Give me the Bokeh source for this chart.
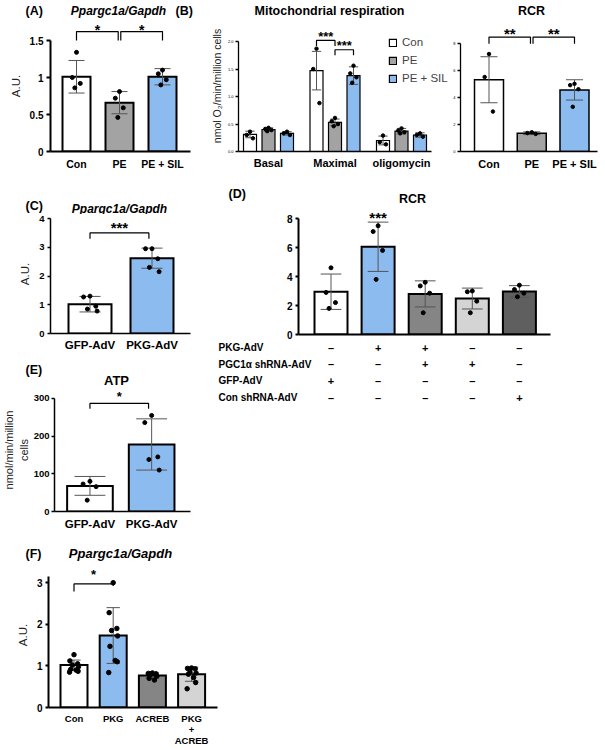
from bokeh.plotting import figure
from bokeh.layouts import column, row
from bokeh.models import (Range1d, FixedTicker, Label, ColumnDataSource, Legend,
                          LegendItem, NumeralTickFormatter)
from bokeh.core.properties import value
from bokeh.embed import file_html
from bokeh.resources import INLINE

FONT = "Liberation Sans"
WHITE = "#ffffff"; BLUE = "#8cbbf0"; GRAY = "#a3a3a3"; MID = "#858585"
LIGHT = "#d4d4d4"; DARK = "#5f5f5f"; ERR = "#555555"

# ---------------- data ----------------
# (A) Ppargc1a/Gapdh
a_groups = ["Con", "PE", "PE + SIL"]
a_mean = [1.01, 0.66, 1.01]
a_sd = [0.22, 0.15, 0.11]
a_pts = [[1.34, 1.0, 0.92, 0.86], [0.81, 0.72, 0.59, 0.46], [1.1, 1.05, 0.97, 0.9]]
a_ticks = [0, 0.5, 1, 1.5]

# (B) Mitochondrial respiration
b_phases = ["Basal", "Maximal", "oligomycin"]
b_conds = ["Con", "PE", "PE + SIL"]
b_con = [0.31, 1.47, 0.20]
b_con_sd = [0.06, 0.35, 0.08]
b_pe = [0.40, 0.53, 0.37]
b_pe_sd = [0.03, 0.06, 0.05]
b_sil = [0.33, 1.38, 0.30]
b_sil_sd = [0.03, 0.16, 0.04]
b_con_pts = [[0.36, 0.30, 0.24], [1.87, 1.50, 0.88], [0.29, 0.17, 0.13]]
b_pe_pts = [[0.43, 0.41, 0.39, 0.37], [0.61, 0.55, 0.50, 0.46], [0.42, 0.38, 0.35, 0.33]]
b_sil_pts = [[0.36, 0.33, 0.30], [1.56, 1.42, 1.35, 1.25], [0.33, 0.30, 0.27]]
b_ticks = [0, 0.5, 1.0, 1.5, 2.0]

# RCR (top)
r_groups = ["Con", "PE", "PE + SIL"]
r_mean = [5.3, 1.35, 4.55]
r_sd = [1.7, 0.1, 0.75]
r_pts = [[7.2, 5.5, 2.95], [1.42, 1.36, 1.3], [5.0, 4.9, 4.6, 3.3]]
r_ticks = [0, 2, 4, 6, 8]

# (C) Ppargc1a/Gapdh
c_groups = ["GFP-AdV", "PKG-AdV"]
c_mean = [1.02, 2.62]
c_sd = [0.27, 0.35]
c_pts = [[1.3, 1.27, 0.95, 0.85, 0.78], [2.95, 2.95, 2.6, 2.3, 2.15]]
c_ticks = [0, 1, 2, 3, 4]

# (E) ATP
e_groups = ["GFP-AdV", "PKG-AdV"]
e_mean = [68, 178]
e_sd = [25, 68]
e_pts = [[80, 73, 66, 30], [255, 236, 145, 138, 110]]
e_ticks = [0, 100, 200, 300]

# (D) RCR
d_mean = [2.95, 6.05, 2.8, 2.48, 2.97]
d_sd = [1.22, 1.7, 0.9, 0.72, 0.4]
d_pts = [[4.6, 2.9, 2.2, 1.8], [7.5, 7.1, 5.8, 3.8], [3.6, 3.35, 2.85, 1.5],
         [3.0, 2.95, 2.3, 1.5], [3.4, 3.1, 2.85, 2.6]]
d_ticks = [0, 2, 4, 6, 8]
d_rows = ["PKG-AdV", "PGC1\u03b1 shRNA-AdV", "GFP-AdV", "Con shRNA-AdV"]
d_signs = [["\u2013", "+", "+", "\u2013", "\u2013"],
           ["\u2013", "\u2013", "+", "+", "\u2013"],
           ["+", "\u2013", "\u2013", "\u2013", "\u2013"],
           ["\u2013", "\u2013", "\u2013", "\u2013", "+"]]

# (F) Ppargc1a/Gapdh
f_groups = ["Con", "PKG", "ACREB", "PKG\n+\nACREB"]
f_mean = [1.02, 1.73, 0.77, 0.80]
f_sd = [0.12, 0.67, 0.06, 0.17]
f_pts = [[1.27, 1.12, 1.05, 1.02, 0.98, 0.92, 0.90, 0.87, 0.85],
         [3.0, 2.28, 1.9, 1.85, 1.72, 1.47, 1.13, 1.1, 0.84],
         [0.83, 0.82, 0.81, 0.80, 0.75, 0.70, 0.66],
         [0.95, 0.94, 0.93, 0.85, 0.83, 0.80, 0.72, 0.60, 0.45]]
f_ticks = [0, 1, 2, 3]

JIT = [0.0, -0.5, 0.45, -0.2, 0.55, -0.4, 0.25, 0.5, -0.55]


class G:
    def __init__(self, w, h, lb, rb, bb, x0, xs, ppu, tb=0):
        self.w, self.h, self.lb, self.rb, self.bb, self.tb = w, h, lb, rb, bb, tb
        self.fw = w - lb - rb
        self.fh = h - tb - bb
        self.x0, self.xs, self.ppu = x0, xs, ppu

    def X(self, fx):
        return (fx - self.lb - self.x0) / self.xs

    def fig(self):
        p = figure(width=self.w, height=self.h,
                   x_range=Range1d(self.X(self.lb), self.X(self.lb + self.fw)),
                   y_range=Range1d(0, self.fh / self.ppu),
                   output_backend="svg", toolbar_location=None,
                   min_border_left=self.lb, min_border_right=self.rb,
                   min_border_top=self.tb, min_border_bottom=self.bb)
        p.outline_line_color = None
        p.grid.visible = False
        p.background_fill_color = "white"
        p.border_fill_color = "white"
        return p


def plain(w, h, xr, yr):
    p = figure(width=w, height=h, x_range=Range1d(*xr), y_range=Range1d(*yr),
               output_backend="svg", toolbar_location=None,
               x_axis_location=None, y_axis_location=None, min_border=0,
               min_border_left=0, min_border_right=0, min_border_top=0, min_border_bottom=0)
    p.outline_line_color = None
    p.grid.visible = False
    return p


def header(w, h, items):
    p = plain(w, h, (0, w), (h, 0))
    for (x, y, text, size, style, align) in items:
        p.text(x=[x], y=[y], text=[text], text_font=value(FONT), text_font_size=f"{size}px",
               text_font_style=style, text_align=align, text_baseline="middle",
               text_color="black")
    return p


def star(p, x, y, text, size):
    p.add_layout(Label(x=x, y=y, text=text, text_font=FONT, text_font_size=f"{size}px",
                       text_font_style="bold", text_align="center",
                       text_baseline="alphabetic", text_color="black"))


def style_axes(p, yticks, ybounds, ysize, lw, xticks, xlabels, xsize, xstand,
               fmt="0.[0]", ylabel=None, ylabel_size=11.5, ylabel_stand=5,
               tick_out=4, ystand=3, ybold="bold"):
    for ax in p.axis:
        ax.axis_line_width = lw
        ax.axis_line_color = "black"
        ax.major_tick_line_width = lw
        ax.minor_tick_line_color = None
        ax.major_label_text_font = FONT
        ax.major_label_text_color = "black"
        ax.major_label_text_font_style = "bold"
    ya = p.yaxis[0]
    ya.ticker = FixedTicker(ticks=yticks)
    ya.formatter = NumeralTickFormatter(format=fmt)
    ya.bounds = ybounds
    ya.major_tick_out = tick_out
    ya.major_tick_in = 0
    ya.major_label_text_font_size = f"{ysize}px"
    ya.major_label_text_font_style = ybold
    ya.major_label_standoff = ystand
    if ylabel:
        ya.axis_label = ylabel
        ya.axis_label_text_font = FONT
        ya.axis_label_text_font_style = "normal"
        ya.axis_label_text_font_size = f"{ylabel_size}px"
        ya.axis_label_text_color = "#222222"
        ya.axis_label_standoff = ylabel_stand
    xa = p.xaxis[0]
    xa.ticker = FixedTicker(ticks=xticks)
    xa.major_label_overrides = {t: l for t, l in zip(xticks, xlabels)}
    xa.major_tick_out = 0
    xa.major_tick_in = 0
    xa.major_tick_line_color = None
    xa.major_label_text_font_size = f"{xsize}px"
    xa.major_label_standoff = xstand


def bars(p, xs, means, sds, pts, colors, w, lw, cap, dot=4, jit=0.3):
    src = ColumnDataSource(dict(x=xs, top=means, color=colors))
    r = p.vbar(x="x", top="top", bottom=0, width=w, fill_color="color",
               line_color="black", line_width=lw, line_join="miter", source=src)
    lo = [m - s for m, s in zip(means, sds)]
    hi = [m + s for m, s in zip(means, sds)]
    p.segment(x0=xs, y0=lo, x1=xs, y1=hi, line_color=ERR, line_width=1)
    p.segment(x0=[x - cap for x in xs] * 2, y0=lo + hi, x1=[x + cap for x in xs] * 2,
              y1=lo + hi, line_color=ERR, line_width=1)
    px, py = [], []
    for x, vals in zip(xs, pts):
        for i, v in enumerate(vals):
            px.append(x + JIT[i % len(JIT)] * w * jit)
            py.append(v)
    p.scatter(px, py, size=dot, color="black")
    return r


def bracket(p, g, x0, x1, y, drop0, drop1, text, size, dy, lw=1.2):
    p.multi_line(xs=[[x0, x0, x1, x1]], ys=[[y - drop0, y, y, y - drop1]],
                 line_color="black", line_width=lw)
    star(p, (x0 + x1) / 2, y - dy / g.ppu, text, size)


# ---------------- top block ----------------
H1 = header(605, 20, [(25, 10, "(A)", 12.5, "bold", "left"),
                      (118, 10, "Ppargc1a/Gapdh", 12, "bold italic", "center"),
                      (175, 10, "(B)", 12.5, "bold", "left"),
                      (329, 10, "Mitochondrial respiration", 12.5, "bold", "center"),
                      (531, 10, "RCR", 12.5, "bold", "center")])

gA = G(196, 160, 50, 6, 29, 26, 43, 74)
pA = gA.fig()
style_axes(pA, a_ticks, (0, 1.5), 10, 2, [0, 1, 2], a_groups, 10.5, 6,
           ylabel="A.U.", ylabel_size=11.5)
bars(pA, [0, 1, 2], a_mean, a_sd, a_pts, [WHITE, GRAY, BLUE], 28 / 43, 2, 8 / 43)
bracket(pA, gA, 0, 0.97, 1.62, 0.12, 0.12, "*", 14, -2)
bracket(pA, gA, 1.03, 2, 1.62, 0.12, 0.12, "*", 14, -2)

gB = G(254, 160, 42, 0, 29, 30, 66.5, 55)
pB = gB.fig()
style_axes(pB, b_ticks, (0, 2.0), 4, 1.3, [0, 1, 2], b_phases, 11, 5, fmt="0.0",
           ylabel="nmol O\u2082/min/million cells", ylabel_size=10.5, ylabel_stand=2,
           tick_out=3, ystand=2, ybold="normal")
pB.xaxis[0].bounds = (gB.X(42), gB.X(235))
OFF = 18.5 / 66.5
BW = 13 / 66.5
rend = []
for k, (m, s, pts, col) in enumerate([(b_con, b_con_sd, b_con_pts, WHITE),
                                      (b_pe, b_pe_sd, b_pe_pts, GRAY),
                                      (b_sil, b_sil_sd, b_sil_pts, BLUE)]):
    xs = [g + (k - 1) * OFF for g in range(3)]
    rend.append(bars(pB, xs, m, s, pts, [col] * 3, BW, 1.2, 0.07, dot=3.5, jit=0.5))
bracket(pB, gB, 1 - OFF, 1, 2.02, 0.1, 0.1, "***", 13, -4)
bracket(pB, gB, 1, 1 + OFF, 1.85, 0.1, 0.1, "***", 13, -4)
leg = Legend(items=[LegendItem(label=value(c), renderers=[r]) for c, r in zip(b_conds, rend)],
             location=(150, 67), glyph_width=9, glyph_height=9, label_height=12,
             label_standoff=5, spacing=6, padding=0, margin=0, border_line_color=None,
             background_fill_alpha=0, label_text_font=FONT, label_text_font_size="11.5px")
pB.add_layout(leg)

gR = G(155, 160, 10, 8, 29, 28.5, 42.75, 13.54)
pR = gR.fig()
style_axes(pR, r_ticks, (0, 8), 4, 1.3, [0, 1, 2], r_groups, 11, 6, fmt="0",
           tick_out=3, ystand=2, ybold="normal")
bars(pR, [0, 1, 2], r_mean, r_sd, r_pts, [WHITE, GRAY, BLUE], 29 / 42.75, 1.5, 0.2, dot=3.5)
bracket(pR, gR, 0, 0.97, 8.45, 0.5, 0.5, "**", 15, -3.6)
bracket(pR, gR, 1.03, 2, 8.45, 0.5, 0.5, "**", 15, -3.6)

top = column(H1, row(pA, pB, pR))

# ---------------- middle block, left ----------------
Ch = header(208, 34, [(25, 25, "(C)", 12.5, "bold", "left"),
                      (119, 28, "Ppargc1a/Gapdh", 12, "bold italic", "center")])
gC = G(208, 146, 50, 18, 27, 39.5, 62, 28.75)
pC = gC.fig()
style_axes(pC, c_ticks, (0, 4), 9.5, 1.5, [0, 1], c_groups, 11.5, 5,
           ylabel="A.U.", ylabel_size=11.5, tick_out=3)
bars(pC, [0, 1], c_mean, c_sd, c_pts, [WHITE, BLUE], 43 / 62, 2, 0.17)
bracket(pC, gC, 0, 0.95, 3.5, 0.2, 0.2, "***", 15, -5)

Eh = header(208, 28, [(25, 9, "(E)", 12.5, "bold", "left"),
                      (116, 20, "ATP", 13, "bold", "center")])
gE = G(208, 152, 50, 18, 29, 36.5, 63.5, 0.3767)
pE = gE.fig()
style_axes(pE, e_ticks, (0, 300), 9.5, 1.5, [0, 1], e_groups, 11.5, 6, tick_out=3,
           ylabel="nmol/min/million\ncells", ylabel_size=11, ylabel_stand=1, ystand=2)
pE.yaxis[0].axis_label_text_line_height = 1.2
bars(pE, [0, 1], e_mean, e_sd, e_pts, [WHITE, BLUE], 47 / 63.5, 2, 0.25)
bracket(pE, gE, 0, 0.95, 287, 14, 14, "*", 13, -6.5)

left = column(Ch, row(pC), Eh, row(pE))

# ---------------- middle block, right ----------------
Dh = header(397, 28, [(20, 13, "(D)", 12.5, "bold", "left"),
                      (204, 18, "RCR", 12.5, "bold", "center")])
gD = G(397, 132, 90, 55, 6, 32.5, 47.1, 14.5)
pD = gD.fig()
style_axes(pD, d_ticks, (0, 8), 10, 2, [], [], 10, 0, tick_out=3)
bars(pD, list(range(5)), d_mean, d_sd, d_pts, [WHITE, BLUE, MID, LIGHT, DARK], 33 / 47.1, 2, 0.22)
star(pD, 1, d_mean[1] + d_sd[1] + 4.3 / 14.5, "***", 15)

T_X0, T_STEP_X = 122.5, 47.1
T_ROW0, T_STEP = 7, 16.7
pT = plain(397, 70, (-T_X0 / T_STEP_X, (397 - T_X0) / T_STEP_X),
           ((70 - T_ROW0) / T_STEP, -T_ROW0 / T_STEP))
row_src = ColumnDataSource(dict(x=[(10 - T_X0) / T_STEP_X] * len(d_rows),
                                y=list(range(len(d_rows))), t=d_rows))
pT.text(x="x", y="y", text="t", source=row_src, text_font=value(FONT),
        text_font_size="10px", text_font_style="bold", text_align="left",
        text_baseline="middle", text_color="black")
sx, sy, st = [], [], []
for i, signs in enumerate(d_signs):
    for j, s in enumerate(signs):
        sx.append(j); sy.append(i); st.append(s)
pT.text(x=sx, y=sy, text=st, text_font=value(FONT), text_font_size="11px",
        text_font_style="bold", text_align="center", text_baseline="middle",
        text_color="black")

right = column(Dh, row(pD), row(pT))
mid = row(left, right)

# ---------------- bottom block ----------------
Fh = header(230, 22, [(25, 13, "(F)", 12.5, "bold", "left"),
                      (120, 13, "Ppargc1a/Gapdh", 13, "bold italic", "center")])
gF = G(230, 186, 48, 13, 35, 25.5, 39.2, 43.33)
pF = gF.fig()
style_axes(pF, f_ticks, (0, 3.14), 10, 2, [0, 1, 2, 3], f_groups, 9.5, 5,
           ylabel="A.U.", ylabel_size=11.5, tick_out=3)
pF.xaxis[0].major_label_text_line_height = 1.0
bars(pF, [0, 1, 2, 3], f_mean, f_sd, f_pts, [WHITE, BLUE, MID, LIGHT], 27 / 39.2, 2, 0.17, dot=4.5)
bracket(pF, gF, 0, 1, 2.97, 0.18, 0.05, "*", 13, -9.5)

bottom = column(Fh, row(pF))

layout = column(top, mid, bottom)
open("out.html", "w").write(file_html(layout, INLINE))
